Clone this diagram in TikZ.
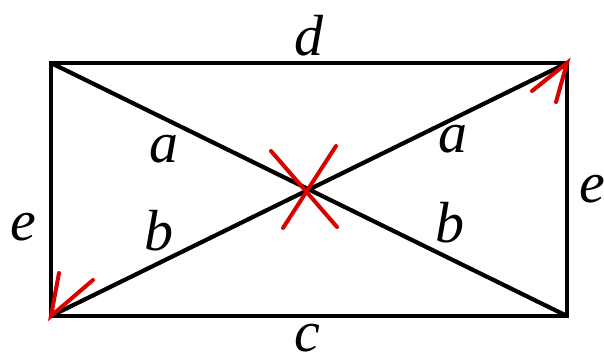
\documentclass[tikz,border=0pt]{standalone}
\usepackage{fontspec}
\setmainfont{Liberation Serif}
\begin{document}
\begin{tikzpicture}[x=1pt,y=-1pt,
  edge/.style={line width=4.2pt, black},
  redline/.style={line width=4pt, red!85!black, line cap=round},
  lbl/.style={anchor=base, inner sep=0pt, font=\fontsize{58}{58}\selectfont\itshape}]
\useasboundingbox (0,0) rectangle (604,356);
\coordinate (TL) at (51,63);
\coordinate (TR) at (567,63);
\coordinate (BR) at (567,316);
\coordinate (BL) at (51,316);
\draw[edge, line join=miter] (TL) -- (TR) -- (BR) -- (BL) -- cycle;
\draw[edge] (TL) -- (BR);
\draw[edge] (BL) -- (TR);
% cross
\coordinate (x1) at (271,151); \coordinate (x2) at (337,227);
\coordinate (x3) at (336,146); \coordinate (x4) at (283,228);
\draw[redline] (x1) -- (x2);
\draw[redline] (x3) -- (x4);
% arrowheads
\coordinate (tr1) at (532,91); \coordinate (tr2) at (556,102);
\coordinate (bl1) at (59,273); \coordinate (bl2) at (93,280);
\draw[redline] (tr1) -- (TR) -- (tr2);
\draw[redline] (bl1) -- (BL) -- (bl2);
% labels
\node[lbl] (d) at (309,55) {d};
\node[lbl] (c) at (307,351) {c};
\node[lbl] (el) at (23,240) {e};
\node[lbl] (er) at (592,202) {e};
\node[lbl] (al) at (164,162) {a};
\node[lbl] (bl) at (159,250) {b};
\node[lbl] (ar) at (453,152) {a};
\node[lbl] (br) at (450,242) {b};
\end{tikzpicture}
\end{document}
